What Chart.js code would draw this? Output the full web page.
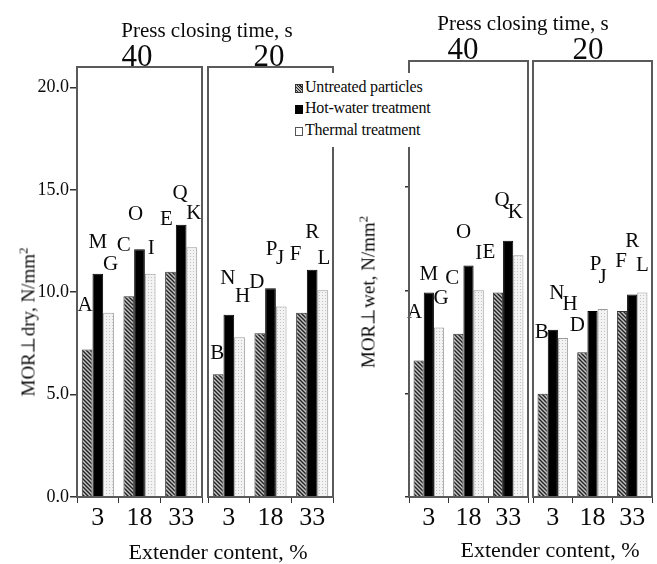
<!DOCTYPE html>
<html>
<head>
<meta charset="utf-8">
<script src="https://cdn.jsdelivr.net/npm/chart.js@4.4.1/dist/chart.umd.min.js"></script>
<style>
    body { margin: 0; background: #fff; }
    #wrap { position: relative; width: 657px; height: 564px; overflow: hidden; font-family: 'Liberation Serif', serif; color: #0a0a0a; }
    #wrap canvas { position: absolute; left: 0; top: 0; }
    .txt { position: absolute; transform: translate(-50%, -50%); white-space: nowrap; line-height: 1; }
    .ytitle { transform: translate(-50%, -50%) rotate(-90deg); font-size: 19px; }
    .ytitle sup { font-size: 13px; vertical-align: 7px; line-height: 0; }
    #legend { position: absolute; left: 291px; top: 73px; width: 154px; height: 74px; background: #fff; font-size: 16px; z-index: 5; }
    #legend .row { position: absolute; left: 4px; height: 18px; line-height: 18px; white-space: nowrap; letter-spacing: -0.2px; }
    #legend .sw { display: inline-block; width: 6px; height: 7px; margin-right: 2px; vertical-align: -1px; border: 1px solid #333; }
</style>
</head>
<body>
<div id="wrap">
    <canvas id="dry40" width="657" height="564"></canvas>
    <canvas id="dry20" width="657" height="564"></canvas>
    <canvas id="wet40" width="657" height="564"></canvas>
    <canvas id="wet20" width="657" height="564"></canvas>

    <div class="txt" style="left:207px; top:30px; font-size:21px;">Press closing time, s</div>
    <div class="txt" style="left:137px; top:55px; font-size:31px;">40</div>
    <div class="txt" style="left:269px; top:55px; font-size:31px;">20</div>
    <div class="txt" style="left:523px; top:23px; font-size:21px;">Press closing time, s</div>
    <div class="txt" style="left:463px; top:48px; font-size:31px;">40</div>
    <div class="txt" style="left:588px; top:48px; font-size:31px;">20</div>

    <div class="txt ytitle" style="left:28px; top:322px;">MOR⊥dry, N/mm<sup>2</sup></div>
    <div class="txt ytitle" style="left:368px; top:292px;">MOR⊥wet, N/mm<sup>2</sup></div>

    <div class="txt" style="left:218px; top:552px; font-size:22px;">Extender content, %</div>
    <div class="txt" style="left:550px; top:550px; font-size:22px;">Extender content, %</div>

    <div id="legend">
        <div class="row" style="top:5px;"><span class="sw" style="background:repeating-linear-gradient(45deg,#bbb 0 1px,#222 1px 2px);"></span>Untreated particles</div>
        <div class="row" style="top:26px;"><span class="sw" style="background:#000;border-color:#000;"></span>Hot-water treatment</div>
        <div class="row" style="top:48px;"><span class="sw" style="background:#fff;border-color:#555;"></span>Thermal treatment</div>
    </div>
</div>

<script>
    // extender content categories and series
    var extenderLabels = ['3', '18', '33'];
    var seriesNames = ['Untreated particles', 'Hot-water treatment', 'Thermal treatment'];

    // MOR dry, press closing time 40 s / 20 s
    var dry40Untreated = [7.2, 9.8, 11.0];
    var dry40HotWater = [10.9, 12.1, 13.3];
    var dry40Thermal = [9.0, 10.9, 12.2];
    var dry20Untreated = [6.0, 8.0, 9.0];
    var dry20HotWater = [8.9, 10.2, 11.1];
    var dry20Thermal = [7.8, 9.3, 10.1];

    // MOR wet, press closing time 40 s / 20 s
    var wet40Untreated = [6.6, 7.9, 9.9];
    var wet40HotWater = [9.9, 11.2, 12.4];
    var wet40Thermal = [8.2, 10.0, 11.7];
    var wet20Untreated = [5.0, 7.0, 9.0];
    var wet20HotWater = [8.1, 9.0, 9.8];
    var wet20Thermal = [7.7, 9.1, 9.9];

    // significance letters (untreated, hot-water, thermal)
    var letters40 = [['A', 'C', 'E'], ['M', 'O', 'Q'], ['G', 'I', 'K']];
    var letters20 = [['B', 'D', 'F'], ['N', 'P', 'R'], ['H', 'J', 'L']];

    var yTicks = [0, 5, 10, 15, 20];

    var W = 657, H = 564;
    var serif = 'Liberation Serif';

    function makeHatch() {
        var c = document.createElement('canvas');
        c.width = 4; c.height = 4;
        var g = c.getContext('2d');
        g.fillStyle = '#c4c4c4';
        g.fillRect(0, 0, 4, 4);
        g.strokeStyle = '#222';
        g.lineWidth = 1.4;
        g.beginPath();
        g.moveTo(-1, -1); g.lineTo(5, 5);
        g.moveTo(-1, 3); g.lineTo(1, 5);
        g.moveTo(3, -1); g.lineTo(5, 1);
        g.stroke();
        return g.createPattern(c, 'repeat');
    }

    function makeDots() {
        var c = document.createElement('canvas');
        c.width = 3; c.height = 3;
        var g = c.getContext('2d');
        g.fillStyle = '#f3f3f3';
        g.fillRect(0, 0, 3, 3);
        g.fillStyle = '#c2c2c2';
        g.fillRect(1, 1, 1, 1);
        return g.createPattern(c, 'repeat');
    }

    var fills = [makeHatch(), '#000', makeDots()];
    var edges = ['#333', '#000', '#9a9a9a'];

    // box around each sub-panel
    var panelBox = {
        id: 'panelBox',
        afterDraw: function (chart) {
            var a = chart.chartArea;
            var ctx = chart.ctx;
            ctx.save();
            ctx.strokeStyle = '#5a5a5a';
            ctx.lineWidth = 2;
            ctx.strokeRect(a.left, a.top, a.right - a.left, a.bottom - a.top);
            ctx.restore();
        },
    };

    // letters above bars
    var barLetters = {
        id: 'barLetters',
        afterDatasetsDraw: function (chart, args, opts) {
            var ctx = chart.ctx;
            ctx.save();
            ctx.font = '21px ' + serif;
            ctx.fillStyle = '#0a0a0a';
            ctx.textAlign = 'center';
            ctx.textBaseline = 'middle';
            chart.data.datasets.forEach(function (ds, i) {
                chart.getDatasetMeta(i).data.forEach(function (bar, j) {
                    var s = opts.shifts[i][j];
                    ctx.fillText(opts.letters[i][j], bar.x + s[0], bar.y + s[1]);
                });
            });
            ctx.restore();
        },
    };

    function createPanel(id, area, values, letters, shifts, yMode, yMax) {
        var yWidth = yMode === 'labels' ? 77 : (yMode === 'ticks' ? 10 : 0);
        var xHeight = 40;
        return new Chart(document.getElementById(id).getContext('2d'), {
            type: 'bar',
            data: {
                labels: extenderLabels,
                datasets: values.map(function (v, i) {
                    return {
                        label: seriesNames[i],
                        data: v,
                        backgroundColor: fills[i],
                        borderColor: edges[i],
                        borderWidth: 1,
                        categoryPercentage: 0.77,
                        barPercentage: 1.0,
                    };
                }),
            },
            options: {
                responsive: false,
                animation: false,
                devicePixelRatio: 1,
                layout: {
                    padding: {
                        left: area.left - yWidth,
                        right: W - area.right,
                        top: area.top,
                        bottom: H - area.bottom - xHeight,
                    },
                },
                scales: {
                    x: {
                        afterFit: function (scale) { scale.height = xHeight; },
                        border: { display: false },
                        grid: { drawOnChartArea: false, drawTicks: true, tickLength: 6, color: '#333' },
                        ticks: { color: '#0a0a0a', padding: 0, font: { family: serif, size: 26 } },
                    },
                    y: {
                        display: yMode !== 'none',
                        min: 0,
                        max: yMax,
                        afterFit: function (scale) { scale.width = yWidth; },
                        afterBuildTicks: function (scale) {
                            scale.ticks = yTicks.map(function (v) { return { value: v }; });
                        },
                        border: { display: false },
                        grid: { drawOnChartArea: false, drawTicks: true, tickLength: yMode === 'labels' ? 7 : 4, color: '#333', lineWidth: 1.5 },
                        ticks: {
                            color: '#0a0a0a',
                            padding: 1,
                            font: { family: serif, size: 18 },
                            callback: function (v) { return yMode === 'labels' ? Number(v).toFixed(1) : ''; },
                        },
                    },
                },
                plugins: {
                    legend: { display: false },
                    tooltip: { enabled: false },
                    barLetters: { letters: letters, shifts: shifts },
                },
            },
            plugins: [panelBox, barLetters],
        });
    }

    createPanel('dry40', { left: 77, right: 202, top: 67, bottom: 497 },
        [dry40Untreated, dry40HotWater, dry40Thermal], letters40,
        [[[-2, -44], [-5, -51], [-4, -52]], [[0, -31], [-4, -35], [-1, -31]], [[2, -48], [1, -25], [2, -34]]],
        'labels', 21.0);

    createPanel('dry20', { left: 208, right: 333, top: 67, bottom: 497 },
        [dry20Untreated, dry20HotWater, dry20Thermal], letters20,
        [[[-1, -21], [-3, -51], [-6, -58]], [[-1, -36], [1, -39], [0, -37]], [[3, -41], [-1, -48], [1, -32]]],
        'none', 21.0);

    createPanel('wet40', { left: 409, right: 528, top: 61, bottom: 497 },
        [wet40Untreated, wet40HotWater, wet40Thermal], letters40,
        [[[-4, -48], [-6, -55], [-9, -40]], [[0, -18], [-5, -33], [-6, -40]], [[2, -29], [0, -37], [-3, -43]]],
        'ticks', 21.1);

    createPanel('wet20', { left: 533, right: 652, top: 61, bottom: 497 },
        [wet20Untreated, wet20HotWater, wet20Thermal], letters20,
        [[[-1, -61], [-5, -27], [-1, -50]], [[4, -36], [3, -47], [0, -53]], [[7, -33], [0, -31], [0, -27]]],
        'none', 21.1);
</script>
</body>
</html>
